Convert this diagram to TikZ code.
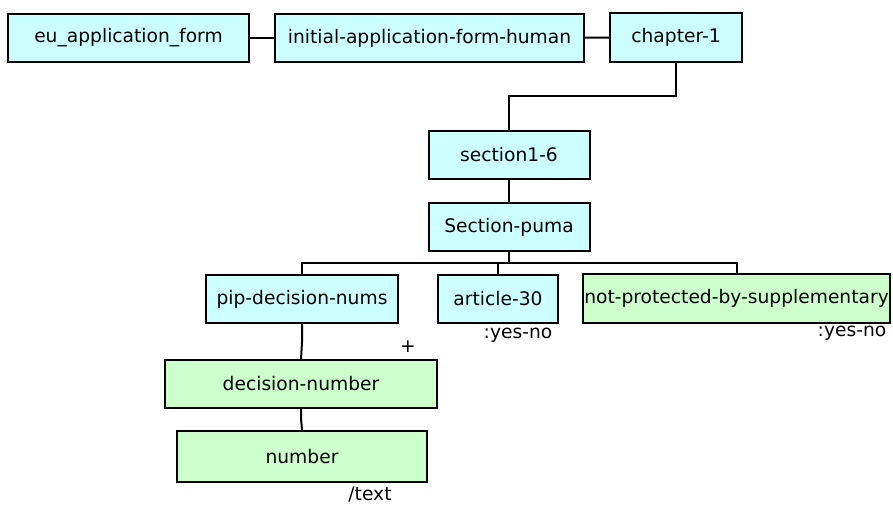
\documentclass[tikz,border=0pt]{standalone}
\usepackage{fontspec}
\setmainfont{DejaVu Sans}
\usepackage{tikz}
\usetikzlibrary{calc}

\definecolor{cyanbox}{HTML}{CCFFFF}
\definecolor{greenbox}{HTML}{CCFFCC}

\begin{document}
\begin{tikzpicture}[x=0.75pt, y=-0.75pt,
    every node/.style={font=\fontsize{14}{16}\selectfont, inner sep=0pt},
    cbox/.style={draw=black, line width=1.5pt, fill=cyanbox, rectangle},
    gbox/.style={draw=black, line width=1.5pt, fill=greenbox, rectangle},
    link/.style={black, line width=1.5pt}]
  \useasboundingbox (0,0) rectangle (893,506);
  % top row
  \node[cbox, minimum width=241*0.75pt, minimum height=48*0.75pt] (euform) at (128.5,38) {eu\_application\_form};
  \node[cbox, minimum width=309*0.75pt, minimum height=48*0.75pt] (initform) at (429.5,38) {initial-application-form-human};
  \node[cbox, minimum width=132*0.75pt, minimum height=49*0.75pt] (chap1) at (676,37.5) {chapter-1};
  % middle column
  \node[cbox, minimum width=161*0.75pt, minimum height=48*0.75pt] (sec16) at (509,155) {section1-6};
  \node[cbox, minimum width=161*0.75pt, minimum height=48*0.75pt] (puma) at (509,227) {Section-puma};
  % children of Section-puma
  \node[cbox, minimum width=192*0.75pt, minimum height=48*0.75pt] (pipnums) at (302,299) {pip-decision-nums};
  \node[cbox, minimum width=120*0.75pt, minimum height=48*0.75pt] (art30) at (498,299) {article-30};
  \node[gbox, minimum width=307*0.75pt, minimum height=49*0.75pt] (notprot) at (736.5,298.5) {not-protected-by-supplementary};
  \node[gbox, minimum width=272*0.75pt, minimum height=48*0.75pt] (decnum) at (301,384) {decision-number};
  \node[gbox, minimum width=250*0.75pt, minimum height=51*0.75pt] (num) at (302,456.5) {number};
  % annotations
  \node (art30type) at (518,335) {:yes-no};
  \node (notprottype) at (852,333) {:yes-no};
  \node (decnumcard) at (408,347) {+};
  \node (numtype) at (370,495) {/text};
  % connectors
  \coordinate (chapbend) at (676,96);
  \coordinate (bus) at (509,263);
  \draw[link] (euform) -- (initform);
  \draw[link] (initform) -- (chap1);
  \draw[link] (chap1.south) -- (chapbend) -| (sec16.north);
  \draw[link] (sec16) -- (puma);
  \draw[link] (puma.south) -- (bus);
  \draw[link] (pipnums.north) |- (bus) -| (notprot.north);
  \draw[link] (art30.north) -- (art30.north |- bus);
  \draw[link] (pipnums.south) -- ++(0,18) -- (decnum.north);
  \draw[link] (decnum.south) -- ++(0,9) -- (num.north);
\end{tikzpicture}
\end{document}
